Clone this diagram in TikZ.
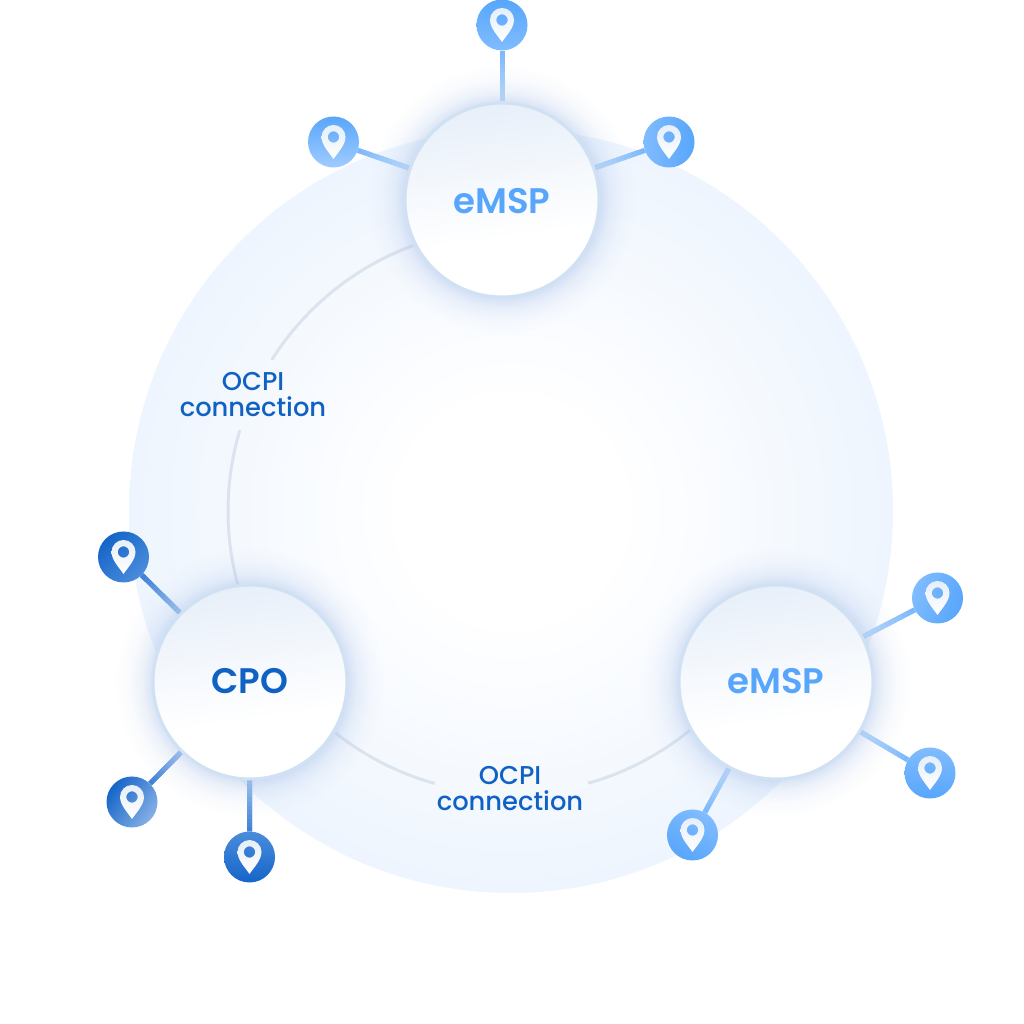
\documentclass[tikz,border=0pt]{standalone}
\usepackage{fontspec}
\usetikzlibrary{calc,fadings}
\setmainfont{Poppins}
\newfontfamily\hubfont{Poppins SemiBold}
\newfontfamily\lblfont{Poppins Medium}
\definecolor{bgedge}{HTML}{EEF5FE}
\definecolor{hubtop}{HTML}{E7EFF9}
\definecolor{hubline}{HTML}{D0E1F3}
\definecolor{ringline}{HTML}{DCE3EF}
\definecolor{lightblue}{HTML}{58A6FB}
\definecolor{darkblue}{HTML}{0F62C4}
\definecolor{glowc}{HTML}{A3BDE8}
\definecolor{lnA}{HTML}{7DB8FB}
\definecolor{lnB}{HTML}{B9DAFC}
\definecolor{ldA}{HTML}{3F82D8}
\definecolor{ldB}{HTML}{93BAEA}
\definecolor{pinsoft}{HTML}{80BCFF}
\definecolor{pinpale}{HTML}{A0CCFF}
\definecolor{pindark}{HTML}{1565C8}
\definecolor{pindk2}{HTML}{4A8CDC}
\definecolor{pindk3}{HTML}{86B0E6}
\definecolor{iconTop}{HTML}{E6EEF8}
\pgfdeclareradialshading{bgshade}{\pgfpoint{0bp}{0bp}}{color(0bp)=(white); color(7bp)=(white); color(25bp)=(bgedge); color(50bp)=(bgedge)}
\pgfdeclareverticalshading{hubshade}{100bp}{color(0bp)=(white); color(25bp)=(white); color(40bp)=(white); color(75bp)=(hubtop); color(100bp)=(hubtop)}
\pgfdeclareradialshading{glowshade}{\pgfpoint{0bp}{0bp}}{color(0bp)=(transparent!55); color(17.9bp)=(transparent!55); color(20bp)=(transparent!80); color(22.5bp)=(transparent!94); color(25bp)=(transparent!100); color(50bp)=(transparent!100)}
\pgfdeclarefading{glowfade}{\pgfuseshading{glowshade}}
\pgfdeclarelayer{linelayer}
\pgfdeclarelayer{glowlayer}
\pgfsetlayers{linelayer,glowlayer,main}
\tikzset{
  hubnode/.style={circle,minimum size=194pt,inner sep=0pt,draw=hubline,line width=3pt,shading=hubshade,shading angle=8},
  hubtext/.style={font=\hubfont\fontsize{35.5}{35.5}\selectfont},
  pinnode/.style={circle,minimum size=51pt,inner sep=0pt},
  ringarc/.style={draw=ringline,line width=3pt},
  ocpi/.style={font=\lblfont\fontsize{25.8}{26}\selectfont,text=darkblue,align=center,inner sep=0pt},
  pinicon/.pic={
    \shade[even odd rule,top color=iconTop,bottom color=white]
      (0,-17) .. controls (-4,-11) and (-12,-3) .. (-12,5)
      arc[start angle=180,end angle=0,radius=12pt]
      .. controls (12,-3) and (4,-11) .. (0,-17) -- cycle
      (5.7,5) arc[start angle=0,end angle=360,radius=5.7pt];
  }
}
\newcommand{\glink}[4]{%
  \begin{pgfonlayer}{linelayer}
    \path (#1) -- (#2) coordinate[pos=0] (ls) coordinate[pos=1] (le);
    \draw[line width=5pt,draw=#3!50!#4] (ls) -- (le);
    \foreach \i in {0,...,11}{
      \pgfmathtruncatemacro{\pct}{100-\i*100/11}
      \pgfmathsetmacro{\ta}{\i/12}
      \pgfmathsetmacro{\tb}{(\i+1)/12}
      \draw[line width=5pt,draw=#3!\pct!#4] ($(ls)!\ta!(le)$) -- ($(ls)!\tb!(le)$);
    }
  \end{pgfonlayer}
}
\newcommand{\hubglow}[1]{%
  \begin{pgfonlayer}{glowlayer}
    \fill[glowc,path fading=glowfade,fit fading=true] (#1) circle[radius=134pt];
  \end{pgfonlayer}
}
\begin{document}
\begin{tikzpicture}[x=1pt,y=1pt]
\useasboundingbox (0,0) rectangle (1024,1024);
\begin{pgfonlayer}{linelayer}
  \fill[white] (0,0) rectangle (1024,1024);
  \coordinate (ringc) at (511,513);
  \path[shading=bgshade] (ringc) circle[radius=382pt];
\end{pgfonlayer}

% hubs
\node[hubnode] (hubTop) at (502,824) {};
\node[hubnode] (hubCPO) at (250,342) {};
\node[hubnode] (hubRight) at (776,342) {};
\node[hubtext,text=lightblue] (tTop) at (502,823) {eMSP};
\node[hubtext,text=darkblue] (tCPO) at (250,343) {CPO};
\node[hubtext,text=lightblue] (tRight) at (776,343) {eMSP};

% pins
\node[pinnode,top color=lightblue,bottom color=pinsoft] (p1) at (502,999) {};
\node[pinnode,top color=lightblue,bottom color=pinpale] (p2) at (333.5,882) {};
\node[pinnode,top color=lightblue,bottom color=pinsoft,shading angle=-90] (p3) at (669,882) {};
\node[pinnode,top color=pindark,bottom color=pindk2,shading angle=45] (p4) at (123.5,467) {};
\node[pinnode,top color=pindark,bottom color=pindk3,shading angle=55] (p5) at (132,222) {};
\node[pinnode,top color=pindark,bottom color=pindk2,shading angle=180] (p6) at (249.5,167) {};
\node[pinnode,top color=lightblue,bottom color=pinsoft,shading angle=-110] (p7) at (937.5,426) {};
\node[pinnode,top color=lightblue,bottom color=pinsoft,shading angle=180] (p8) at (930,251) {};
\node[pinnode,top color=lightblue,bottom color=pinsoft,shading angle=150] (p9) at (692.5,189) {};
\foreach \p in {p1,p2,p3,p4,p5,p6,p7,p8,p9}{ \pic at (\p) {pinicon}; }

% connectors
\glink{p1}{hubTop}{lnA}{lnB}
\glink{p2}{hubTop}{lnA}{lnB}
\glink{p3}{hubTop}{lnA}{lnB}
\glink{p4}{hubCPO}{ldA}{ldB}
\glink{p5}{hubCPO}{ldA}{ldB}
\glink{p6}{hubCPO}{ldA}{ldB}
\glink{p7}{hubRight}{lnA}{lnB}
\glink{p8}{hubRight}{lnA}{lnB}
\glink{p9}{hubRight}{lnA}{lnB}

\begin{pgfonlayer}{linelayer}
  \draw[ringarc] ($(ringc)+(110.3:283)$) arc[start angle=110.3,end angle=147.7,radius=283pt];
  \draw[ringarc] ($(ringc)+(163.4:283)$) arc[start angle=163.4,end angle=195.1,radius=283pt];
  \draw[ringarc] ($(ringc)+(231.7:283)$) arc[start angle=231.7,end angle=254.4,radius=283pt];
  \draw[ringarc] ($(ringc)+(285.8:283)$) arc[start angle=285.8,end angle=309.2,radius=283pt];
\end{pgfonlayer}

\hubglow{hubTop}
\hubglow{hubCPO}
\hubglow{hubRight}

\node[ocpi] (lab1) at (253,629) {OCPI\\connection};
\node[ocpi] (lab2) at (510,235) {OCPI\\connection};
\end{tikzpicture}
\end{document}
